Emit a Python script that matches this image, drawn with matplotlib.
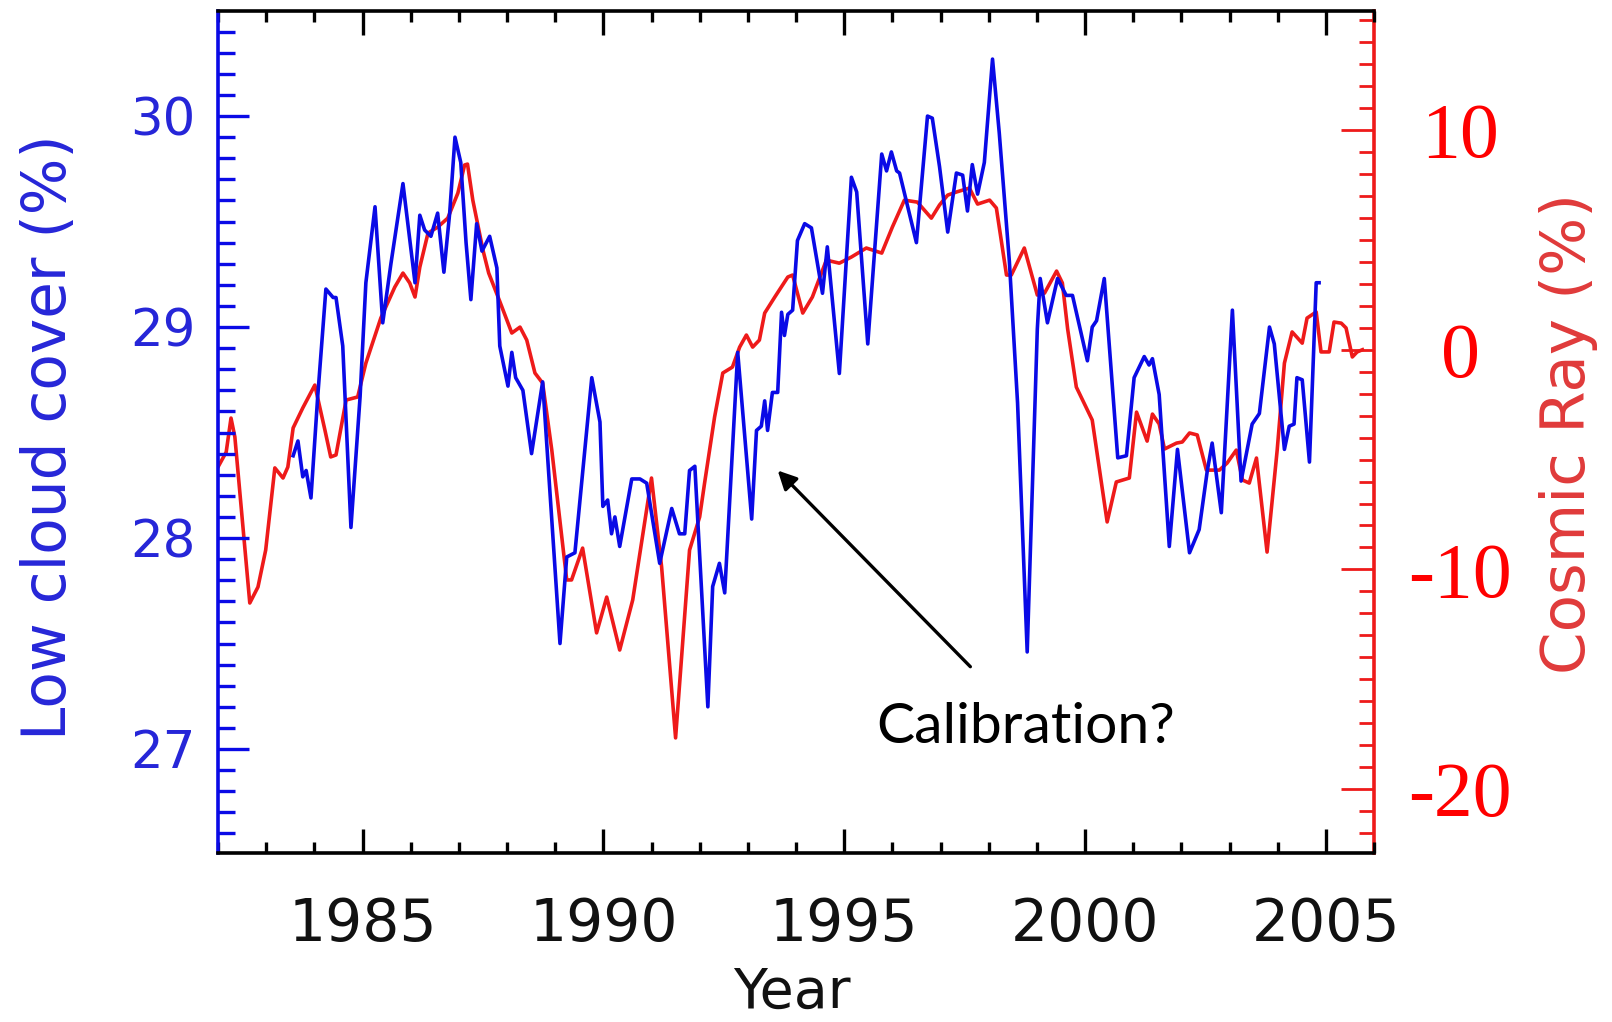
import matplotlib
matplotlib.use("Agg")
import matplotlib.pyplot as plt
from matplotlib.ticker import MultipleLocator, FixedLocator, FixedFormatter

# ---------------- data ----------------
cloud_year = [
    1983.56, 1983.66, 1983.76, 1983.83, 1983.93, 1984.07, 1984.24, 1984.39, 1984.45, 1984.59,
    1984.76, 1984.95, 1985.07, 1985.26, 1985.42, 1985.59, 1985.84, 1986.09, 1986.19, 1986.29,
    1986.42, 1986.56, 1986.69, 1986.81, 1986.92, 1987.04, 1987.15, 1987.25, 1987.37, 1987.48,
    1987.64, 1987.79, 1987.85, 1988.02, 1988.10, 1988.18, 1988.33, 1988.51, 1988.74, 1988.85,
    1989.10, 1989.24, 1989.41, 1989.76, 1989.93, 1989.99, 1990.09, 1990.17, 1990.24, 1990.34,
    1990.59, 1990.76, 1990.90, 1991.17, 1991.42, 1991.58, 1991.69, 1991.79, 1991.90, 1992.17,
    1992.27, 1992.41, 1992.52, 1992.79, 1993.08, 1993.18, 1993.28, 1993.35, 1993.41, 1993.51,
    1993.62, 1993.70, 1993.76, 1993.83, 1993.93, 1994.03, 1994.18, 1994.32, 1994.55, 1994.65,
    1994.90, 1995.15, 1995.26, 1995.49, 1995.78, 1995.88, 1995.98, 1996.09, 1996.15, 1996.50,
    1996.73, 1996.83, 1996.98, 1997.15, 1997.33, 1997.46, 1997.56, 1997.66, 1997.77, 1997.91,
    1998.08, 1998.22, 1998.43, 1998.60, 1998.80, 1999.01, 1999.07, 1999.22, 1999.43, 1999.61,
    1999.74, 2000.05, 2000.15, 2000.24, 2000.40, 2000.68, 2000.86, 2001.02, 2001.23, 2001.33,
    2001.40, 2001.54, 2001.75, 2001.92, 2002.17, 2002.37, 2002.54, 2002.64, 2002.83, 2003.06,
    2003.24, 2003.47, 2003.62, 2003.83, 2003.93, 2004.14, 2004.24, 2004.34, 2004.40, 2004.51,
    2004.66, 2004.80, 2004.86,
]
cloud_cover = [
    28.39, 28.46, 28.29, 28.32, 28.19, 28.67, 29.18, 29.14, 29.14, 28.91,
    28.05, 28.67, 29.21, 29.57, 29.02, 29.30, 29.68, 29.21, 29.53, 29.46,
    29.43, 29.54, 29.26, 29.54, 29.90, 29.78, 29.40, 29.13, 29.49, 29.36,
    29.43, 29.28, 28.91, 28.72, 28.88, 28.76, 28.70, 28.40, 28.74, 28.36,
    27.50, 27.91, 27.93, 28.76, 28.55, 28.15, 28.18, 28.02, 28.10, 27.96,
    28.28, 28.28, 28.26, 27.88, 28.14, 28.02, 28.02, 28.32, 28.34, 27.20,
    27.77, 27.88, 27.74, 28.88, 28.09, 28.51, 28.53, 28.65, 28.51, 28.69,
    28.69, 29.07, 28.96, 29.06, 29.08, 29.41, 29.49, 29.47, 29.16, 29.38,
    28.78, 29.71, 29.64, 28.92, 29.82, 29.74, 29.83, 29.74, 29.73, 29.40,
    30.00, 29.99, 29.76, 29.45, 29.73, 29.72, 29.55, 29.77, 29.63, 29.78,
    30.27, 29.92, 29.31, 28.64, 27.46, 28.99, 29.23, 29.02, 29.23, 29.15,
    29.15, 28.84, 29.00, 29.03, 29.23, 28.38, 28.39, 28.76, 28.86, 28.82,
    28.85, 28.68, 27.96, 28.42, 27.93, 28.04, 28.32, 28.45, 28.12, 29.08,
    28.27, 28.54, 28.59, 29.00, 28.92, 28.42, 28.53, 28.54, 28.76, 28.75,
    28.36, 29.21, 29.21,
]

ray_year = [
    1982.00, 1982.17, 1982.27, 1982.35, 1982.66, 1982.83, 1982.99, 1983.18, 1983.35, 1983.45,
    1983.56, 1983.76, 1984.01, 1984.22, 1984.34, 1984.45, 1984.66, 1984.90, 1985.07, 1985.38,
    1985.67, 1985.84, 1985.98, 1986.09, 1986.19, 1986.36, 1986.56, 1986.77, 1986.98, 1987.12,
    1987.18, 1987.29, 1987.50, 1987.62, 1987.85, 1988.10, 1988.27, 1988.41, 1988.58, 1988.74,
    1988.93, 1989.24, 1989.34, 1989.57, 1989.86, 1990.07, 1990.34, 1990.61, 1991.00, 1991.21,
    1991.50, 1991.79, 1992.00, 1992.10, 1992.31, 1992.48, 1992.68, 1992.83, 1992.97, 1993.10,
    1993.24, 1993.35, 1993.56, 1993.83, 1993.93, 1994.14, 1994.34, 1994.63, 1994.90, 1995.15,
    1995.46, 1995.78, 1996.00, 1996.25, 1996.52, 1996.81, 1996.98, 1997.15, 1997.33, 1997.60,
    1997.77, 1998.02, 1998.16, 1998.37, 1998.47, 1998.74, 1999.01, 1999.16, 1999.41, 1999.53,
    1999.64, 1999.82, 2000.15, 2000.46, 2000.65, 2000.92, 2001.07, 2001.29, 2001.40, 2001.54,
    2001.65, 2001.90, 2002.02, 2002.17, 2002.33, 2002.52, 2002.79, 2002.95, 2003.14, 2003.27,
    2003.41, 2003.56, 2003.78, 2003.99, 2004.14, 2004.30, 2004.51, 2004.61, 2004.80, 2004.90,
    2005.07, 2005.17, 2005.32, 2005.42, 2005.55, 2005.65, 2005.76,
]
cosmic_ray = [
    -5.34, -4.66, -3.11, -3.97, -11.53, -10.80, -9.12, -5.38, -5.84, -5.34,
    -3.56, -2.65, -1.61, -3.66, -4.88, -4.79, -2.29, -2.15, -0.61, 1.44,
    2.85, 3.49, 3.04, 2.40, 3.76, 5.31, 5.58, 5.99, 7.13, 8.41,
    8.45, 6.81, 4.54, 3.49, 2.20, 0.76, 1.03, 0.44, -1.06, -1.52,
    -4.57, -10.48, -10.48, -9.03, -12.89, -11.26, -13.67, -11.39, -5.84, -9.89,
    -17.67, -9.12, -7.61, -6.10, -3.06, -1.06, -0.79, 0.12, 0.67, 0.12,
    0.44, 1.67, 2.40, 3.31, 3.40, 1.67, 2.40, 4.08, 3.94, 4.22,
    4.63, 4.40, 5.58, 6.81, 6.72, 5.99, 6.59, 7.04, 7.18, 7.36,
    6.63, 6.81, 6.45, 3.40, 3.40, 4.63, 2.49, 2.58, 3.58, 3.04,
    0.94, -1.70, -3.20, -7.84, -6.02, -5.84, -2.84, -4.16, -2.93, -3.38,
    -4.52, -4.25, -4.20, -3.79, -3.88, -5.48, -5.48, -5.16, -4.57, -5.93,
    -6.07, -4.93, -9.21, -4.57, -0.61, 0.81, 0.30, 1.44, 1.72, -0.10,
    -0.10, 1.26, 1.21, 0.99, -0.33, -0.10, 0.00,
]

year_ticks = [1985, 1990, 1995, 2000, 2005]
year_labels = ["1985", "1990", "1995", "2000", "2005"]
cloud_ticks = [27, 28, 29, 30]
cloud_labels = ["27", "28", "29", "30"]
ray_ticks = [-20, -10, 0, 10]
ray_labels = ["-20", "-10", "0", "10"]

BLUE = "#0a0ae6"
BLUE_TXT = "#2626d8"
RED = "#ee1a1a"
RED_TXT = "#ff0000"
RED_LBL = "#e03a3a"

# ---------------- figure ----------------
fig = plt.figure(figsize=(16.12, 10.22), dpi=100)
left, right = 218 / 1612, 1374 / 1612
bottom, top = 1 - 853 / 1022, 1 - 11 / 1022
ax2 = fig.add_axes([left, bottom, right - left, top - bottom])
ax = fig.add_axes([left, bottom, right - left, top - bottom], sharex=ax2)
ax.patch.set_visible(False)

# red cosmic-ray series (right axis)
ax2.plot(ray_year, cosmic_ray, color=RED, lw=2.6, solid_joinstyle="round")
ax2.set_ylim(-22.91, 15.42)
ax2.yaxis.tick_right()
ax2.yaxis.set_major_locator(FixedLocator(ray_ticks))
ax2.yaxis.set_major_formatter(FixedFormatter(ray_labels))
ax2.yaxis.set_minor_locator(MultipleLocator(1))
ax2.tick_params(axis="y", which="major", direction="in", length=24, width=2.0,
                color=RED, labelcolor=RED_TXT, labelsize=56, pad=62,
                left=False, right=True)
ax2.tick_params(axis="y", which="minor", direction="in", length=11, width=2.0,
                color=RED, left=False, right=True)
for lab in ax2.get_yticklabels():
    lab.set_fontfamily("Liberation Serif")
    lab.set_horizontalalignment("center")
ax2.tick_params(axis="x", which="both", bottom=False, top=False,
                labelbottom=False, labeltop=False)
for s in ["left", "top", "bottom"]:
    ax2.spines[s].set_visible(False)
ax2.spines["right"].set_color(RED)
ax2.spines["right"].set_linewidth(2.6)

# blue cloud series (left axis)
ax.plot(cloud_year, cloud_cover, color=BLUE, lw=2.6, solid_joinstyle="round")
ax.set_xlim(1982, 2006)
ax.set_ylim(26.507, 30.498)
ax.xaxis.set_major_locator(FixedLocator(year_ticks))
ax.xaxis.set_major_formatter(FixedFormatter(year_labels))
ax.xaxis.set_minor_locator(MultipleLocator(1))
ax.yaxis.set_major_locator(FixedLocator(cloud_ticks))
ax.yaxis.set_major_formatter(FixedFormatter(cloud_labels))
ax.yaxis.set_minor_locator(MultipleLocator(0.1))
ax.tick_params(axis="x", which="major", direction="in", length=17, width=2.4,
               color="black", labelcolor="#111111", labelsize=42, pad=31,
               top=True, bottom=True)
ax.tick_params(axis="x", which="minor", direction="in", length=8, width=2.4,
               color="black", top=True, bottom=True)
ax.tick_params(axis="y", which="major", direction="in", length=22, width=2.4,
               color=BLUE, labelcolor=BLUE_TXT, labelsize=37, pad=16,
               left=True, right=False)
ax.tick_params(axis="y", which="minor", direction="in", length=12, width=2.4,
               color=BLUE, left=True, right=False)
for lab in ax.get_xticklabels() + ax.get_yticklabels():
    lab.set_fontfamily("DejaVu Sans")
ax.spines["right"].set_visible(False)
ax.spines["left"].set_color(BLUE)
ax.spines["left"].set_linewidth(2.6)
for s in ["top", "bottom"]:
    ax.spines[s].set_color("black")
    ax.spines[s].set_linewidth(2.6)

# axis titles
fig.text(50 / 1612, 1 - 437 / 1022, "Low cloud cover (%)", rotation=90,
         ha="center", va="center", fontsize=43, color=BLUE_TXT,
         family="DejaVu Sans")
fig.text(1568 / 1612, 1 - 434 / 1022, "Cosmic Ray (%)", rotation=90,
         ha="center", va="center", fontsize=44, color=RED_LBL,
         family="DejaVu Sans")
fig.text(792 / 1612, 1 - 1008 / 1022, "Year", ha="center", va="baseline",
         fontsize=40, color="#111111", family="DejaVu Sans")

# annotation
ax.annotate("", xy=(1993.62, 28.32), xytext=(1997.62, 27.39),
            arrowprops=dict(arrowstyle="-|>", mutation_scale=28, lw=2.4,
                            color="black", shrinkA=0, shrinkB=0))
ax.text(1998.76, 27.03, "Calibration?", ha="center", va="baseline",
        fontsize=41, color="black", family="Lato")

fig.savefig("out.png", dpi=100)
